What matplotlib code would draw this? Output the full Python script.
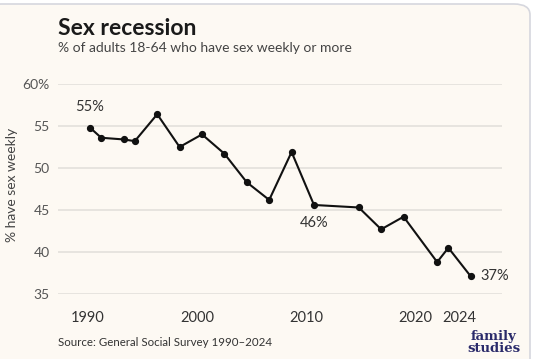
import matplotlib
matplotlib.use("Agg")
import matplotlib.pyplot as plt
from matplotlib.patches import FancyBboxPatch

years = [1990, 1991, 1993, 1994, 1996, 1998, 2000, 2002, 2004, 2006, 2008,
         2010, 2014, 2016, 2018, 2021, 2022, 2024]
values = [54.8, 53.6, 53.4, 53.2, 56.4, 52.5, 54.0, 51.7, 48.3, 46.2, 51.9,
          45.6, 45.3, 42.7, 44.2, 38.8, 40.5, 37.1]
xtick_labels = ["1990", "2000", "2010", "2020", "2024"]
ytick_values = [35, 40, 45, 50, 55, 60]
ytick_labels = ["35", "40", "45", "50", "55", "60%"]
annot_years = [1990, 2010, 2024]
annot_texts = ["55%", "46%", "37%"]

W, H = 535, 359
dpi = 100
plt.rcParams['font.family'] = ['Lato', 'DejaVu Sans']

fig = plt.figure(figsize=(W / dpi, H / dpi), dpi=dpi)
fig.patch.set_facecolor('white')

cream = '#fdf9f3'
card = FancyBboxPatch((-15 / W, -0.1), (545 / W), 1.1 - 4 / H,
                      boxstyle="round,pad=0,rounding_size=0.03",
                      transform=fig.transFigure, facecolor=cream,
                      edgecolor='#d6d7de', linewidth=1.2, zorder=-5)
fig.patches.append(card)

ax = fig.add_axes([58 / W, 1 - 294 / H, (502 - 58) / W, (294 - 84) / H])
ax.set_facecolor('none')
ax.set_xlim(1987.14, 2026.79)
ax.set_ylim(35, 60)

for v in ytick_values:
    ax.axhline(v, color='#e7e4df', linewidth=1.4, zorder=1)

ax.plot(years, values, color='#111111', linewidth=1.5, marker='o',
        markersize=4.2, zorder=3, clip_on=False)

ax.set_yticks(ytick_values)
ax.set_yticklabels(ytick_labels)
xtick_pos = [1989.82, 1999.6, 2009.29, 2019.02, 2023.0]
ax.set_xticks(xtick_pos)
ax.set_xticklabels(xtick_labels)
ax.tick_params(axis='y', length=0, pad=6, labelsize=10, labelcolor='#555555')
ax.tick_params(axis='x', length=0, pad=12, labelsize=10.5, labelcolor='#333333')
for s in ax.spines.values():
    s.set_visible(False)

ax.set_ylabel('% have sex weekly', fontsize=10, color='#444444')
ax.yaxis.set_label_coords((18 - 58) / 444, (294 - 185) / 210)

# annotations
vals = dict(zip(years, values))
ax.annotate(annot_texts[0], (annot_years[0], vals[annot_years[0]]), xytext=(0, 10),
            textcoords='offset points', ha='center', va='bottom', fontsize=10.5, color='#333333')
ax.annotate(annot_texts[1], (annot_years[1], vals[annot_years[1]]), xytext=(0, -8),
            textcoords='offset points', ha='center', va='top', fontsize=10.5, color='#333333')
ax.annotate(annot_texts[2], (annot_years[2], vals[annot_years[2]]), xytext=(7, 0),
            textcoords='offset points', ha='left', va='center', fontsize=10.5, color='#333333')

fig.text(58 / W, 1 - 35 / H, 'Sex recession', fontsize=16.5, fontweight='bold',
         color='#1a1a1a', ha='left', va='baseline')
fig.text(58 / W, 1 - 52 / H, '% of adults 18-64 who have sex weekly or more',
         fontsize=10, color='#444444', ha='left', va='baseline')
fig.text(58 / W, 1 - 346 / H, 'Source: General Social Survey 1990–2024',
         fontsize=8.3, color='#333333', ha='left', va='baseline')
fig.text(494 / W, 1 - 340 / H, 'family', fontsize=9.5, fontweight='bold',
         family='DejaVu Serif', color='#2a2a6a', ha='center', va='baseline')
fig.text(494 / W, 1 - 352 / H, 'studies', fontsize=9.5, fontweight='bold',
         family='DejaVu Serif', color='#2a2a6a', ha='center', va='baseline')

fig.savefig('out.png', dpi=dpi, facecolor=fig.get_facecolor())
